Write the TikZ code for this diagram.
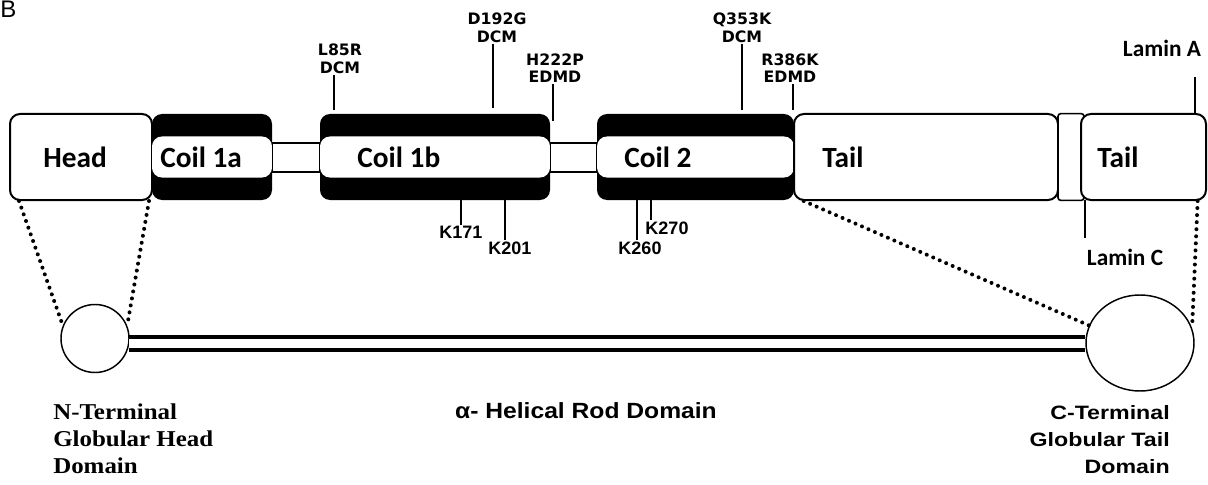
\documentclass[tikz,border=0pt]{standalone}
\usepackage{fontspec}
\setmainfont{Liberation Sans}
\newfontfamily\calb{Carlito}
\newfontfamily\dvb{DejaVu Sans}
\newfontfamily\arwide[FakeStretch=1.2]{Liberation Sans}
\newfontfamily\arrod[FakeStretch=1.12]{Liberation Sans}
\newfontfamily\serifw[FakeStretch=1.1]{Liberation Serif}
\usetikzlibrary{shapes.geometric}
\tikzset{
  box/.style={draw, line width=1.5pt, fill=white, rounded corners=7.5pt, minimum height=64.5pt, inner sep=0pt},
  coil/.style={fill=black, rounded corners=7.5pt, minimum height=64.5pt, inner sep=0pt,
    path picture={\fill[white] ([yshift=-15.4pt]path picture bounding box.east) rectangle ([yshift=15.4pt]path picture bounding box.west);}},
  linker/.style={draw, line width=1.5pt, fill=white, minimum height=21.75pt, inner sep=0pt},
  boxlabel/.style={font=\calb\bfseries\fontsize{22}{24}\selectfont, anchor=base west, inner sep=0pt},
  mut/.style={font=\dvb\bfseries\fontsize{11.8}{13}\selectfont, align=center, inner sep=1pt, anchor=south},
  klab/.style={font=\bfseries\fontsize{13.5}{15}\selectfont, inner sep=1pt, anchor=north},
  lamin/.style={font=\calb\bfseries\fontsize{17.5}{19}\selectfont, inner sep=0pt, anchor=base},
  tick/.style={line width=1.5pt},
  dots/.style={line width=3pt, line cap=round, dash pattern=on 0pt off 5.3pt},
  globe/.style={draw, line width=1.1pt, fill=white, inner sep=0pt},
}
\begin{document}
\begin{tikzpicture}[x=0.75pt,y=-0.75pt]
\useasboundingbox (0,0) rectangle (1208,485);
\node[anchor=base west, font=\fontsize{18}{20}\selectfont, inner sep=0pt] (blabel) at (0,18) {B};
% linkers
\node[linker, minimum width=36pt] (lk1) at (296,157.5) {};
\node[linker, minimum width=35.25pt] (lk2) at (573.5,157.5) {};
% domains
\node[box, minimum width=106.5pt] (head) at (81,157) {};
\node[coil, minimum width=90pt] (c1a) at (212,157) {};
\node[coil, minimum width=172.5pt] (c1b) at (435,157) {};
\node[coil, minimum width=147.75pt] (c2) at (695.5,157) {};
\node[box, minimum width=198pt] (tail1) at (926,157) {};
\node[draw, line width=1.2pt, fill=white, rounded corners=2pt, minimum width=19.5pt, minimum height=65pt, inner sep=0pt] (hinge) at (1071,157) {};
\node[box, minimum width=93.75pt] (tail2) at (1143.5,157) {};
% domain labels
\node[boxlabel] (thead) at (43,167) {Head};
\node[boxlabel] (tc1a) at (160,167) {Coil 1a};
\node[boxlabel] (tc1b) at (357,167) {Coil 1b};
\node[boxlabel] (tc2) at (624,167) {Coil 2};
\node[boxlabel] (ttail1) at (822,167) {Tail};
\node[boxlabel] (ttail2) at (1097,167) {Tail};
% mutations above
\node[mut] (l85) at (340,75) {L85R\\DCM};
\node[mut] (d192) at (497,44) {D192G\\DCM};
\node[mut] (h222) at (555,84) {H222P\\EDMD};
\node[mut] (q353) at (742,44) {Q353K\\DCM};
\node[mut] (r386) at (790,84) {R386K\\EDMD};
\node[lamin] (lamA) at (1162,57) {Lamin A};
\coordinate (p85) at (334,110);
\coordinate (p192) at (493,108);
\coordinate (p222) at (553,121);
\coordinate (p353) at (742,110);
\coordinate (p386) at (793,110);
\coordinate (pA) at (1195,115);
\coordinate (pAtop) at (1195,77);
\draw[tick] (p85 |- l85.south) -- (p85);
\draw[tick] (p192 |- d192.south) -- (p192);
\draw[tick] (p222 |- h222.south) -- (p222);
\draw[tick] (p353 |- q353.south) -- (p353);
\draw[tick] (p386 |- r386.south) -- (p386);
\draw[tick] (pAtop) -- (pA);
% lysines below
\node[klab] (k171) at (461,225) {K171};
\node[klab] (k201) at (510,240) {K201};
\node[klab] (k260) at (640,240) {K260};
\node[klab] (k270) at (667,220) {K270};
\node[lamin] (lamC) at (1125,265) {Lamin C};
\coordinate (q171) at (461,200);
\coordinate (q201) at (505,200);
\coordinate (q260) at (637,200);
\coordinate (q270) at (651,200);
\coordinate (qC) at (1085,200);
\coordinate (qCb) at (1085,238);
\draw[tick] (q171) -- (q171 |- k171.north);
\draw[tick] (q201) -- (q201 |- k201.north);
\draw[tick] (q260) -- (q260 |- k260.north);
\draw[tick] (q270) -- (q270 |- k270.north);
\draw[line width=1.2pt] (qC) -- (qCb);
% globular domains and rod
\node[globe, circle, minimum size=51pt] (nc) at (95,338.5) {};
\node[globe, ellipse, minimum width=81pt, minimum height=72pt] (cc) at (1140,343) {};
\draw[line width=3.2pt, double=white, double distance=6.5pt] (nc.-8) -- (nc.-8 -| cc.west);
\draw[dots] ([xshift=7.5pt]head.south west) -- (nc.158);
\draw[dots] ([xshift=-3pt]head.south east) -- (nc.22);
\draw[dots] ([xshift=8pt]tail1.south west) -- (cc.161);
\draw[dots] ([xshift=-7pt]tail2.south east) -- (cc.16);
% bottom labels
\node[anchor=north west, align=left, font=\serifw\bfseries\fontsize{17}{20.25}\selectfont, inner sep=0pt] (nterm) at (53,404) {N-Terminal\\Globular Head\\Domain};
\node[anchor=base, font=\arrod\bfseries\fontsize{16.5}{18}\selectfont, inner sep=0pt] (rodlab) at (586,418) {α- Helical Rod Domain};
\node[anchor=north east, align=right, font=\arwide\bfseries\fontsize{14.5}{20.25}\selectfont, inner sep=0pt] (cterm) at (1170,405) {C-Terminal\\Globular Tail\\Domain};
\end{tikzpicture}
\end{document}
